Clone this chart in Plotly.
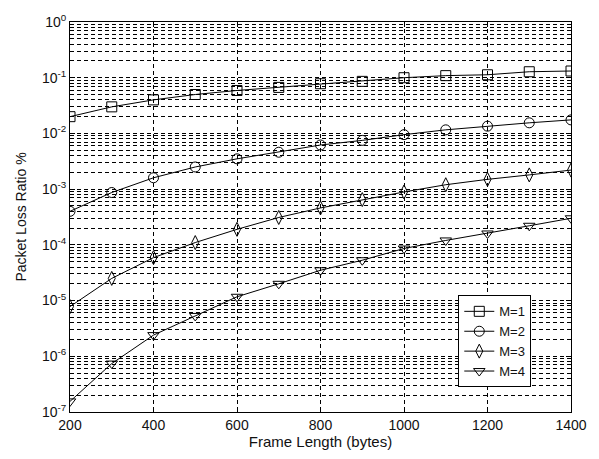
import plotly.graph_objects as go

frame_length = [200, 300, 400, 500, 600, 700, 800, 900, 1000, 1100, 1200, 1300, 1400]
m1 = [0.020, 0.030, 0.040, 0.050, 0.059, 0.067, 0.078, 0.086, 0.100, 0.109, 0.113, 0.128, 0.132]
m2 = [4.0e-4, 8.7e-4, 1.6e-3, 2.5e-3, 3.5e-3, 4.6e-3, 6.2e-3, 7.5e-3, 9.5e-3, 1.16e-2, 1.35e-2, 1.55e-2, 1.75e-2]
m3 = [7.8e-6, 2.5e-5, 5.9e-5, 1.1e-4, 1.9e-4, 3.1e-4, 4.6e-4, 6.5e-4, 8.9e-4, 1.2e-3, 1.5e-3, 1.8e-3, 2.2e-3]
m4 = [1.55e-7, 7.4e-7, 2.4e-6, 5.3e-6, 1.17e-5, 2.0e-5, 3.5e-5, 5.3e-5, 8.6e-5, 1.2e-4, 1.6e-4, 2.2e-4, 3.0e-4]
series_names = ["M=1", "M=2", "M=3", "M=4"]
y_tick_vals = [1e-7, 1e-6, 1e-5, 1e-4, 1e-3, 1e-2, 1e-1, 1e0]
y_tick_text = ["10<sup>-7</sup>", "10<sup>-6</sup>", "10<sup>-5</sup>", "10<sup>-4</sup>",
               "10<sup>-3</sup>", "10<sup>-2</sup>", "10<sup>-1</sup>", "10<sup>0</sup>"]
x_tick_vals = [200, 400, 600, 800, 1000, 1200, 1400]

symbols = ["square-open", "circle-open", "diamond-tall-open", "triangle-down-open"]
sizes = [10, 10, 10, 10]

fig = go.Figure()
for name, vals, sym, sz in zip(series_names, [m1, m2, m3, m4], symbols, sizes):
    fig.add_trace(go.Scatter(
        x=frame_length, y=vals, name=name, mode="lines+markers",
        line=dict(color="black", width=1),
        marker=dict(symbol=sym, size=sz, color="black", line=dict(color="black", width=1)),
    ))

font_family = "Liberation Sans, Arial, sans-serif"
dash = "4px,3px"
fig.update_layout(
    width=599, height=459,
    margin=dict(l=70, r=22, t=16, b=45),
    paper_bgcolor="white", plot_bgcolor="white",
    font=dict(family=font_family, size=14, color="#111"),
    legend=dict(
        x=0.775, y=0.299, xanchor="left", yanchor="top",
        bgcolor="white", bordercolor="black", borderwidth=1,
        font=dict(size=13, color="#111"), tracegroupgap=0,
        itemwidth=30,
    ),
    xaxis=dict(
        range=[200, 1400], tickvals=x_tick_vals,
        showgrid=True, gridcolor="black", griddash=dash, gridwidth=1,
        showline=True, linecolor="black", linewidth=1, mirror="ticks",
        ticks="inside", ticklen=5, tickcolor="black",
        zeroline=False,
        title=dict(text="Frame Length (bytes)", standoff=4, font=dict(size=15)),
        tickfont=dict(size=14),
    ),
    yaxis=dict(
        type="log", range=[-7, 0],
        tickvals=y_tick_vals, ticktext=y_tick_text,
        showgrid=True, gridcolor="black", griddash=dash, gridwidth=1,
        minor=dict(dtick="D1", showgrid=True, gridcolor="black", griddash=dash, gridwidth=1,
                   ticks="inside", ticklen=3, tickcolor="black"),
        showline=True, linecolor="black", linewidth=1, mirror="ticks",
        ticks="inside", ticklen=5, tickcolor="black",
        zeroline=False,
        title=dict(text="Packet Loss Ratio %", standoff=12, font=dict(size=14)),
        tickfont=dict(size=14),
    ),
)

fig.write_html("out.html", config={"displayModeBar": False},
               post_script="document.body.style.margin='0';")
